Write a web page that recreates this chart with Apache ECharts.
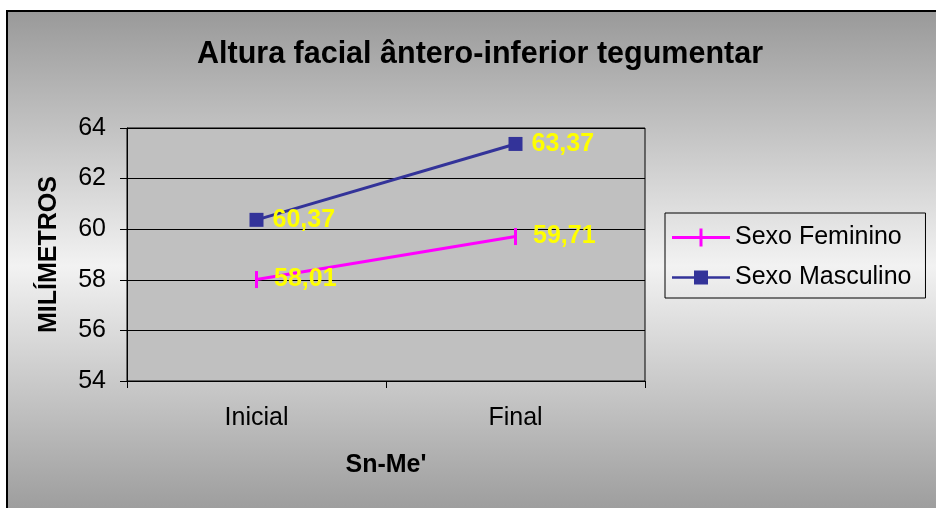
<!DOCTYPE html>
<html>
<head>
<meta charset="utf-8">
<script src="https://cdn.jsdelivr.net/npm/echarts@6/dist/echarts.min.js"></script>
<style>html,body{margin:0;padding:0;background:#fff}#c{width:936px;height:508px}</style>
</head>
<body>
<div id="c"></div>
<script>
var categories = ['Inicial', 'Final'];
var feminino = [58.01, 59.71];
var masculino = [60.37, 63.37];
var seriesNames = ['Sexo Feminino', 'Sexo Masculino'];
var titleText = 'Altura facial ântero-inferior tegumentar';
var yName = 'MILÍMETROS';
var xName = "Sn-Me'";

var FONT = 'Arial, "Liberation Sans", sans-serif';
var chart = echarts.init(document.getElementById('c'));
var fmt = function (p) { return p.value.toFixed(2).replace('.', ','); };
var labelStyle = { show: true, position: 'right', color: '#FFFF00', fontFamily: FONT, fontWeight: 'bold', fontSize: 25, formatter: fmt };
chart.setOption({
  animation: false,
  graphic: [{
    type: 'rect', z: -10, silent: true,
    shape: { x: 7, y: 11, width: 940, height: 510 },
    style: {
      fill: new echarts.graphic.LinearGradient(0, 0, 0, 1, [
        { offset: 0, color: '#999999' },
        { offset: 0.5, color: '#f2f2f2' },
        { offset: 1, color: '#999999' }
      ]),
      stroke: '#000', lineWidth: 2
    }
  }],
  title: {
    text: titleText, left: 475, top: 34, textAlign: 'center',
    textStyle: { fontFamily: FONT, fontWeight: 'bold', fontSize: 30.5, color: '#000' }
  },
  legend: {
    orient: 'vertical', left: 665, top: 213,
    padding: [12, 14, 8, 7], itemGap: 15, itemWidth: 58, itemHeight: 18,
    borderColor: '#000', borderWidth: 1, backgroundColor: 'transparent',
    textStyle: { fontFamily: FONT, fontSize: 25, color: '#000' },
    data: [
      { name: seriesNames[0], icon: 'path://M0,7.5h58v3h-58z M27.5,0h3v18h-3z' },
      { name: seriesNames[1], icon: 'path://M0,7.75h58v2.5h-58z M22,2h14v14h-14z' }
    ]
  },
  grid: { left: 127, top: 128, width: 518, height: 253, show: true, backgroundColor: '#c0c0c0', borderColor: '#000', borderWidth: 1 },
  xAxis: {
    type: 'category', data: categories, boundaryGap: true,
    axisLine: { lineStyle: { color: '#000', width: 1 } },
    axisTick: { show: true, length: 7, lineStyle: { color: '#000' } },
    axisLabel: { color: '#000', fontFamily: FONT, fontSize: 25, margin: 25 },
    name: xName, nameLocation: 'middle', nameGap: 72,
    nameTextStyle: { color: '#000', fontFamily: FONT, fontWeight: 'bold', fontSize: 25 }
  },
  yAxis: {
    type: 'value', min: 54, max: 64, interval: 2,
    axisLine: { show: true, lineStyle: { color: '#000', width: 1 } },
    axisTick: { show: true, length: 7, lineStyle: { color: '#000' } },
    splitLine: { show: true, lineStyle: { color: '#000', width: 1 } },
    axisLabel: { color: '#000', fontFamily: FONT, fontSize: 25, margin: 21 },
    name: yName, nameLocation: 'middle', nameGap: 65, nameRotate: 90,
    nameTextStyle: { color: '#000', fontFamily: FONT, fontWeight: 'bold', fontSize: 25 }
  },
  series: [
    {
      name: seriesNames[0], type: 'line', data: feminino,
      color: '#FF00FF',
      lineStyle: { color: '#FF00FF', width: 3 },
      symbol: 'path://M0,0h3v17h-3z', symbolSize: [3, 17], showAllSymbol: true,
      itemStyle: { color: '#FF00FF' },
      label: Object.assign({}, labelStyle, { distance: 16 })
    },
    {
      name: seriesNames[1], type: 'line', data: masculino,
      color: '#333399',
      lineStyle: { color: '#333399', width: 3 },
      symbol: 'rect', symbolSize: 14, showAllSymbol: true,
      itemStyle: { color: '#333399' },
      label: Object.assign({}, labelStyle, { distance: 9 })
    }
  ]
});
</script>
</body>
</html>
